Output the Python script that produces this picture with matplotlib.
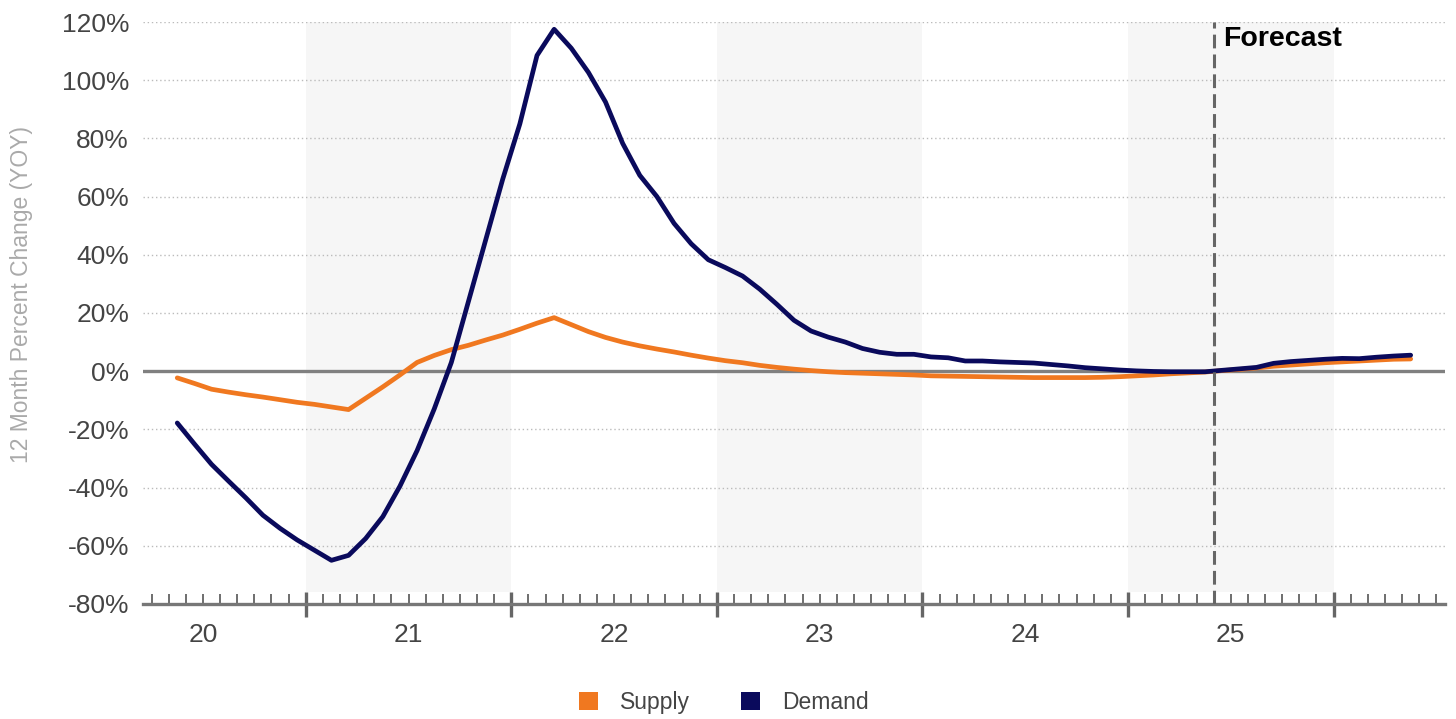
import numpy as np
import matplotlib.pyplot as plt
from matplotlib.patches import Patch

plt.rcParams["font.family"] = ["Liberation Sans", "DejaVu Sans"]

# monthly series, May 2020 through May 2026 (month index 4 = May 2020)
first_month = 4
supply = [
    -2.3, -4.2, -6.2, -7.2, -8.1, -8.9, -9.8, -10.7, -11.4, -12.3, -13.2,
    -9.3, -5.4, -1.3, 3.0, 5.4, 7.4, 8.9, 10.7, 12.4, 14.4, 16.5, 18.4,
    16.0, 13.6, 11.6, 10.0, 8.7, 7.6, 6.6, 5.5, 4.5, 3.6, 2.9, 2.0, 1.3,
    0.7, 0.2, -0.2, -0.5, -0.7, -0.9, -1.1, -1.3, -1.6, -1.7, -1.8, -1.9,
    -2.0, -2.1, -2.2, -2.2, -2.2, -2.2, -2.1, -1.9, -1.6, -1.3, -0.9, -0.6,
    -0.3, 0.2, 0.6, 1.1, 1.7, 2.1, 2.5, 2.9, 3.2, 3.5, 3.8, 4.1, 4.2,
]
demand = [
    -17.8, -25.0, -32.0, -37.8, -43.5, -49.5, -54.0, -58.0, -61.5, -65.0,
    -63.3, -57.5, -50.0, -39.5, -27.3, -13.0, 3.0, 24.0, 45.0, 66.0, 85.0,
    108.5, 117.5, 111.0, 102.7, 92.5, 78.3, 67.3, 60.0, 50.8, 43.8, 38.3,
    35.6, 32.7, 28.2, 23.0, 17.5, 13.8, 11.7, 10.0, 7.8, 6.5, 5.8, 5.8,
    4.9, 4.6, 3.5, 3.5, 3.2, 3.0, 2.8, 2.3, 1.8, 1.2, 0.8, 0.4, 0.1, -0.1,
    -0.2, -0.2, -0.2, 0.3, 0.8, 1.3, 2.7, 3.3, 3.7, 4.1, 4.4, 4.3, 4.8,
    5.2, 5.5,
]
year_labels = ["20", "21", "22", "23", "24", "25"]
shaded_years = ["21", "23", "25"]
forecast_start = 65  # June 2025

orange = "#f07820"
navy = "#0a0a5c"
text_gray = "#444444"

months = np.arange(first_month, first_month + len(supply)) + 0.5

fig = plt.figure(figsize=(14.56, 7.19), dpi=100)
ax = fig.add_axes([0.0982, 0.16, 0.8942, 0.8094])

# alternating year bands
for yl in shaded_years:
    i = year_labels.index(yl)
    ax.axvspan(12 * i, 12 * (i + 1), ymin=0.02, ymax=1, color="#f6f6f6",
               zorder=0, lw=0)

ax.set_ylim(-80, 120)
ax.set_xlim(2.5, 78.5)
ax.set_yticks(np.arange(-80, 121, 20))
ax.set_yticklabels([f"{v}%" for v in range(-80, 121, 20)])
ax.yaxis.grid(True, linestyle=(0, (1, 2)), color="#bbbbbb", lw=1.0, zorder=1)
ax.tick_params(axis="y", length=0, pad=10, labelsize=19, labelcolor=text_gray)

ax.axhline(0, color="#808080", lw=2.4, zorder=2)

ax.plot(months, supply, color=orange, lw=3.4, zorder=3, solid_capstyle="round")
ax.plot(months, demand, color=navy, lw=3.4, zorder=4, solid_capstyle="round")

ax.axvline(forecast_start, color="#666666", lw=2.2, linestyle=(0, (4.5, 2)),
           zorder=5)
ax.text(forecast_start + 0.55, 114.2, "Forecast", fontsize=20.5,
        fontweight="bold", color="black", ha="left", va="center")

for side in ["top", "right", "left"]:
    ax.spines[side].set_visible(False)
ax.spines["bottom"].set_color("#777777")
ax.spines["bottom"].set_linewidth(2.4)

# year boundaries as long ticks, months as short ones
ax.set_xticks(np.arange(12, 73, 12))
ax.set_xticklabels([])
ax.set_xticks(np.arange(3, 79, 1), minor=True)
ax.tick_params(axis="x", which="major", direction="inout", length=18,
               width=2.4, color="#666666")
ax.tick_params(axis="x", which="minor", direction="in", length=7.5,
               width=1.2, color="#555555")

sec = ax.secondary_xaxis("bottom")
sec.set_xticks([12 * i + 6 for i in range(len(year_labels))])
sec.set_xticklabels(year_labels)
sec.tick_params(length=0, pad=14, labelsize=19, labelcolor=text_gray)
sec.spines["bottom"].set_visible(False)

fig.text(0.0145, 0.59, "12 Month Percent Change (YOY)", rotation=90,
         ha="center", va="center", fontsize=16.5, color="#aaaaaa")

handles = [Patch(facecolor=orange, label="Supply"),
           Patch(facecolor=navy, label="Demand")]
fig.legend(handles=handles, loc="center", bbox_to_anchor=(0.497, 0.023),
           ncol=2, frameon=False, fontsize=16.5, handlelength=0.85,
           handleheight=0.85, handletextpad=0.95, columnspacing=2.2,
           labelcolor=text_gray)

fig.savefig("out.png", dpi=100, facecolor="white")
